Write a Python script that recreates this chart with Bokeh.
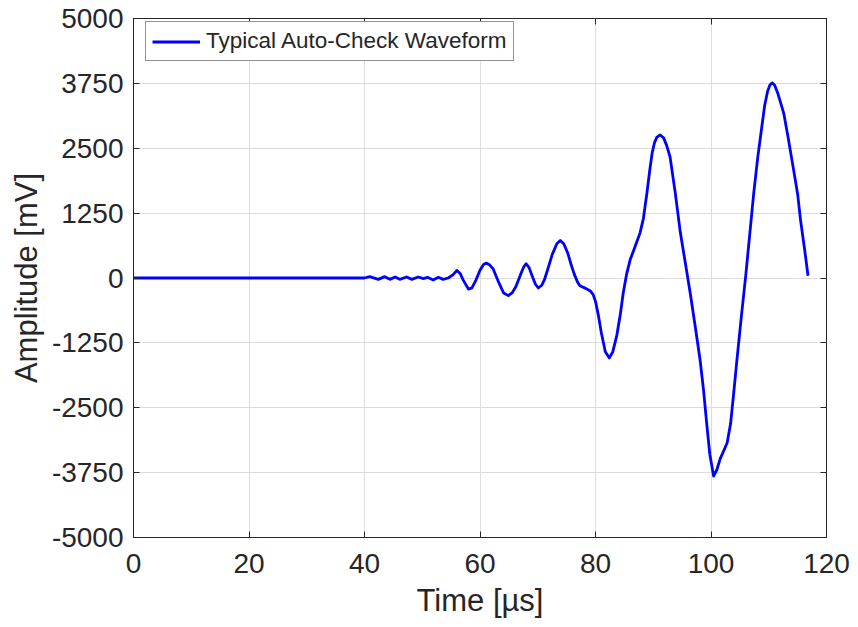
from bokeh.plotting import figure
from bokeh.models import (FixedTicker, LinearAxis, Range1d, Legend, LegendItem,
                          CustomJSTickFormatter)
from bokeh.embed import file_html
from bokeh.resources import INLINE

# ---- data ----
time_us = [0, 10, 20, 30, 38, 40.0, 40.9, 42.4, 43.5, 44.4, 45.3, 46.1, 47.3, 48.2,
           49.3, 50.2, 50.9, 51.9, 52.8, 53.6, 54.5, 55.3, 56.0, 56.6, 57.1, 58.0,
           58.6, 59.3, 60.0, 60.6, 61.1, 61.7, 62.3, 63.3, 64.1, 64.9, 65.6, 66.2,
           67.0, 67.6, 68.0, 68.5, 69.0, 69.6, 70.1, 70.7, 71.2, 71.9, 72.5, 73.3,
           73.9, 74.5, 75.2, 75.8, 76.3, 76.9, 77.3, 78.3, 79.1, 79.6, 80.0, 80.5,
           81.0, 81.7, 82.4, 83.0, 83.7, 84.3, 84.8, 85.4, 86.0, 87.0, 87.7, 88.3,
           88.9, 89.4, 89.8, 90.2, 90.6, 91.2, 91.8, 92.3, 92.9, 93.8, 94.7, 95.6,
           96.4, 97.2, 98.1, 98.7, 99.3, 99.8, 100.45, 101.0, 101.6, 102.2, 102.8,
           103.4, 103.9, 104.5, 105.2, 106.0, 106.7, 107.4, 108.1, 108.8, 109.3,
           109.8, 110.2, 110.6, 111.0, 111.5, 112.0, 112.6, 113.4, 114.3, 115.0,
           115.5, 116.2, 116.8]
amplitude_mv = [0, 0, 0, 0, 0, 0, 26, -26, 26, -26, 19, -26, 19, -26,
                19, -13, 13, -38, 13, -26, 0, 60, 147, 80, -40, -215,
                -190, -40, 150, 260, 288, 250, 170, -100, -290, -340, -280, -170,
                60, 220, 275, 200, 50, -120, -193, -140, -20, 230, 450, 660,
                723, 660, 480, 250, 80, -80, -150, -200, -250, -320, -450, -720,
                -1050, -1420, -1540, -1420, -1100, -700, -290, 80, 350, 650, 865, 1150,
                1634, 2080, 2404, 2600, 2710, 2756, 2700, 2560, 2340, 1650, 870, 260,
                -290, -880, -1570, -2150, -2853, -3400, -3815, -3700, -3480, -3330, -3173,
                -2800, -2250, -1570, -800, 30, 830, 1634, 2330, 2915, 3330,
                3600, 3720, 3760, 3720, 3580, 3400, 3173, 2680, 2083, 1620,
                1121, 560, 44]

x_ticks = [0, 20, 40, 60, 80, 100, 120]
y_ticks = [-5000, -3750, -2500, -1250, 0, 1250, 2500, 3750, 5000]
series_label = "Typical Auto-Check Waveform"

FONT = "Liberation Sans"
TXT = "#262626"

p = figure(width=858, height=627, output_backend="svg", toolbar_location=None,
           x_range=Range1d(0, 120), y_range=Range1d(-5000, 5000),
           min_border_left=133, min_border_right=32, min_border_top=18,
           min_border_bottom=90, background_fill_color="white",
           border_fill_color="white")
p.outline_line_color = TXT
p.outline_line_width = 1

for ax, ticks in ((p.xaxis[0], x_ticks), (p.yaxis[0], y_ticks)):
    ax.ticker = FixedTicker(ticks=ticks)
    ax.major_tick_in = 6
    ax.major_tick_out = 0
    ax.minor_tick_line_color = None
    ax.axis_line_color = TXT
    ax.major_tick_line_color = TXT
    ax.major_label_text_font = FONT
    ax.major_label_text_font_size = "28px"
    ax.major_label_text_color = TXT
    ax.axis_label_text_font = FONT
    ax.axis_label_text_font_size = "31px"
    ax.axis_label_text_font_style = "normal"
    ax.axis_label_text_color = TXT
    ax.major_label_overrides = {t: str(t) for t in ticks}

p.xaxis[0].axis_label = "Time [µs]"
p.yaxis[0].axis_label = "Amplitude [mV]"
p.xaxis[0].major_label_standoff = 16
p.yaxis[0].major_label_standoff = 10
p.xaxis[0].axis_label_standoff = 7
p.yaxis[0].axis_label_standoff = 5

# box ticks on top and right (MATLAB style)
blank = CustomJSTickFormatter(code="return ''")
top = LinearAxis(ticker=FixedTicker(ticks=x_ticks), formatter=blank,
                 major_tick_in=6, major_tick_out=0, minor_tick_line_color=None,
                 axis_line_color=TXT, major_tick_line_color=TXT,
                 major_label_text_font_size="1px")
right = LinearAxis(ticker=FixedTicker(ticks=y_ticks), formatter=blank,
                   major_tick_in=6, major_tick_out=0, minor_tick_line_color=None,
                   axis_line_color=TXT, major_tick_line_color=TXT,
                   major_label_text_font_size="1px")
p.add_layout(top, "above")
p.add_layout(right, "right")

p.xgrid.ticker = FixedTicker(ticks=x_ticks)
p.ygrid.ticker = FixedTicker(ticks=y_ticks)
p.grid.grid_line_color = "#dcdcdc"
p.grid.grid_line_width = 1

r = p.line(time_us, amplitude_mv, line_color="#0000ff", line_width=2.8,
           line_join="round")

legend = Legend(items=[LegendItem(label=series_label, renderers=[r])],
                location=(12, 520 - 13 - 31))
legend.label_text_font = FONT
legend.label_text_font_size = "22.5px"
legend.label_text_color = TXT
legend.border_line_color = TXT
legend.border_line_width = 1
legend.background_fill_color = "white"
legend.background_fill_alpha = 1
legend.glyph_width = 48
legend.glyph_height = 19
legend.label_height = 19
legend.label_standoff = 6
legend.padding = 6
legend.spacing = 0
legend.margin = 0
p.add_layout(legend)

open("out.html", "w").write(file_html(p, INLINE))
